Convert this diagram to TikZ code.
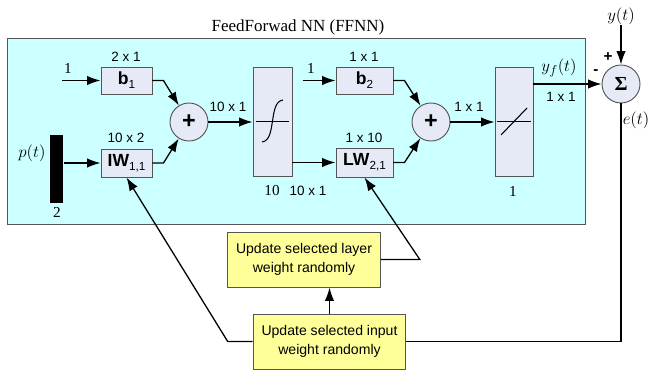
\documentclass[tikz,border=0pt]{standalone}
\usepackage{fontspec}
\setmainfont{Liberation Serif}
\setsansfont{Liberation Sans}
\usetikzlibrary{arrows.meta}
\definecolor{nnbg}{HTML}{CCFFFF}
\definecolor{blkfill}{HTML}{E6EAF6}
\definecolor{blkline}{HTML}{555555}
\definecolor{updfill}{HTML}{FFFF99}
\newcommand{\wlab}[2]{{\bfseries #1}\raisebox{-0.45ex}{\fontsize{10}{10}\selectfont #2}}

\begin{document}
\begin{tikzpicture}[x=0.3mm, y=-0.3mm, line width=1.1pt,
    >={Latex[length=4mm,width=2.8mm]},
    blk/.style={draw=blkline, fill=blkfill, line width=0.8pt, inner sep=0pt,
        font=\sffamily\fontsize{15}{15}\selectfont},
    sum/.style={circle, draw=blkline, fill=blkfill, line width=0.8pt, minimum size=11.4mm,
        inner sep=0pt, font=\sffamily\bfseries\fontsize{20}{20}\selectfont},
    upd/.style={draw=blkline, fill=updfill, line width=0.8pt, align=center,
        minimum width=45.8mm, minimum height=16.5mm, inner sep=0pt,
        font=\sffamily\fontsize{12}{16}\selectfont},
    dim/.style={inner sep=1pt, font=\sffamily\fontsize{11.5}{12}\selectfont},
    num/.style={inner sep=1pt, font=\rmfamily\fontsize{13}{13}\selectfont},
    var/.style={inner sep=0pt, font=\fontsize{15}{15}\selectfont},
    sgn/.style={inner sep=0pt, font=\sffamily\bfseries\fontsize{13}{13}\selectfont}]
    \useasboundingbox (0,0) rectangle (652,371);
    % FFNN frame
    \draw[draw=blkline, fill=nnbg, line width=0.8pt] (7,38) rectangle (585,224);
    \node[inner sep=0pt, font=\rmfamily\fontsize{14.5}{15}\selectfont] (title) at (298,27) {FeedForwad NN (FFNN)};
    % blocks
    \node[blk, minimum width=15.3mm, minimum height=8.1mm] (b1) at (126.5,80.5) {\wlab{b}{1}};
    \node[blk, minimum width=15.3mm, minimum height=8.4mm] (iw) at (126.5,163) {\wlab{IW}{1,1}};
    \node[blk, minimum width=17.1mm, minimum height=8.1mm] (b2) at (364.5,80.5) {\wlab{b}{2}};
    \node[blk, minimum width=17.1mm, minimum height=8.7mm] (lw) at (364.5,162.5) {\wlab{LW}{2,1}};
    \node[blk, minimum width=11.7mm, minimum height=32.7mm] (tansig) at (272.5,121.5) {};
    \node[blk, minimum width=11.4mm, minimum height=32.7mm] (purelin) at (514,121.5) {};
    \node[sum] (sum1) at (189,122) {+};
    \node[sum] (sum2) at (431,122) {+};
    \node[sum, font=\rmfamily\bfseries\fontsize{17}{17}\selectfont] (sigma) at (621,84) {Σ};
    \node[fill=black, minimum width=3.9mm, minimum height=20.4mm, inner sep=0pt] (pin) at (56.5,169) {};
    \node[upd] (upl) at (304,259.5) {Update selected layer\\weight randomly};
    \node[upd] (upi) at (329.5,341.5) {Update selected input\\weight randomly};
    % transfer functions
    \draw[line width=0.8pt] (256,121) -- (289,121);
    \draw[line width=0.9pt] (262,142) .. controls (270,141) and (271,130) .. (272.5,121)
        .. controls (274,112) and (275,101) .. (283,100);
    \draw[line width=0.8pt] (497,121) -- (531,121);
    \draw[line width=0.9pt] (501,135) -- (527,108);
    % sizes and signals
    \node[dim] (d1) at (126,57) {2 x 1};
    \node[dim] (d2) at (126,138) {10 x 2};
    \node[dim] (d3) at (228,107) {10 x 1};
    \node[num] (n1) at (272,191) {10};
    \node[dim] (d4) at (308,191) {10 x 1};
    \node[dim] (d5) at (364,57) {1 x 1};
    \node[dim] (d6) at (364,138) {1 x 10};
    \node[dim] (d7) at (469,107) {1 x 1};
    \node[num] (n2) at (513,191) {1};
    \node[dim] (d8) at (561,97) {1 x 1};
    \node[num] (n3) at (57,212) {2};
    \node[num] (one1) at (68,68) {1};
    \node[num] (one2) at (311,68) {1};
    \node[var] (yf) at (559,68) {$y_f(t)$};
    \node[var] (yt) at (621,16) {$y(t)$};
    \node[var] (et) at (636,120) {$e(t)$};
    \node[var] (pt) at (32,153) {$p(t)$};
    \node[sgn] (plus) at (608,57) {+};
    \node[sgn] (minus) at (596,72) {-};
    % connections
    \coordinate (in1) at (62,80.5);
    \coordinate (in2) at (303,80.5);
    \draw[->] (in1) -- (b1);
    \draw[->] (pin.east |- iw) -- (iw);
    \draw[->] (b1.east) -- ++(11,0) -- (sum1);
    \draw[->] (iw.east) -- ++(11,0) -- (sum1);
    \draw[->] (sum1.east) -- (sum1.east -| tansig.west);
    \draw[->] (tansig.east |- lw) -- (lw);
    \draw[->] (in2) -- (b2);
    \draw[->] (b2.east) -- ++(11,0) -- (sum2);
    \draw[->] (lw.east) -- ++(11,0) -- (sum2);
    \draw[->] (sum2.east) -- (sum2.east -| purelin.west);
    \draw[->] (purelin.east |- sigma) -- (sigma);
    \draw[->] (yt) -- (sigma);
    \draw (sigma) |- (upi);
    \draw[->] (upi.north) -- (upi.north |- upl.south);
    \draw[->] (upl.east) -- ++(39,0) -- (lw.south);
    \draw[->] (upi.west) -- ++(-25,0) -- (iw.south);
\end{tikzpicture}
\end{document}
